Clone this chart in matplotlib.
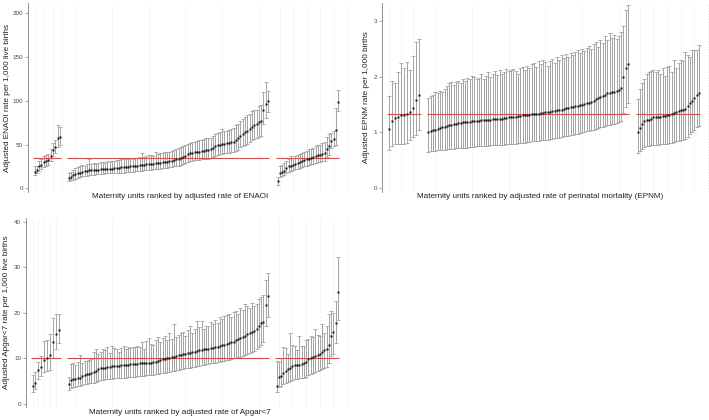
import numpy as np
import matplotlib
matplotlib.use("Agg")
import matplotlib.pyplot as plt

plt.rcParams['font.family'] = ['Liberation Sans', 'DejaVu Sans']

# ---------------- DATA ----------------
# ENAOI (per 1,000 live births)
enaoi_g1 = [19, 21, 25, 27, 30, 31, 32, 37, 44, 47, 58, 59]
enaoi_g1_up = [25, 26, 31, 33, 37, 38, 39, 45, 52, 55, 72, 70]
enaoi_g1_lo = [15, 17, 20, 22, 24, 26, 27, 31, 37, 40, 47, 49]

enaoi_g2 = [11.5, 13.5, 15.0, 16.0, 17.0, 18.0, 19.0, 19.5, 20.0, 20.5,
            21.0, 21.0, 21.2, 21.5, 21.7, 22.0, 22.0, 22.2, 22.4, 22.6,
            23.0, 23.2, 23.5, 23.8, 24.0, 24.3, 24.6, 25.0, 25.3, 25.6,
            26.0, 26.3, 26.6, 27.0, 27.3, 27.6, 28.0, 28.2, 28.5, 28.8,
            29.2, 29.6, 30.0, 30.5, 31.0, 31.5, 32.0, 33.0, 34.0, 35.0,
            36.0, 37.5, 39.0, 40.0, 40.5, 41.0, 41.5, 42.0, 42.5, 43.0,
            43.5, 44.0, 45.0, 46.5, 48.0, 49.0, 50.0, 50.5, 51.0, 51.5,
            52.0, 52.5, 53.0, 55.0, 57.0, 60.0, 62.0, 64.0, 66.0, 68.0,
            70.0, 72.0, 73.0, 76.0, 77.0, 90.0, 96.0, 100.0]
enaoi_g2_up = [17, 19, 21, 23, 24, 25, 27, 26, 28, 33,
               28, 29, 28, 29, 30, 30, 29, 31, 30, 31,
               31, 32, 32, 33, 33, 34, 33, 35, 34, 35,
               35, 36, 40, 36, 37, 38, 38, 37, 41, 39,
               40, 40, 41, 42, 42, 43, 44, 45, 46, 47,
               48, 49, 51, 52, 53, 53, 54, 55, 55, 56,
               57, 57, 58, 60, 62, 63, 64, 68, 65, 66,
               67, 68, 69, 72, 74, 77, 79, 81, 84, 85,
               88, 90, 90, 94, 95, 110, 121, 111]
enaoi_g2_lo = [8, 9, 10, 11, 12, 13, 14, 14, 14, 15,
               15, 15, 16, 16, 16, 16, 17, 17, 17, 17,
               17, 18, 18, 18, 18, 19, 19, 19, 19, 20,
               20, 20, 20, 21, 21, 21, 21, 22, 22, 22,
               22, 23, 23, 23, 24, 24, 25, 25, 26, 27,
               28, 29, 30, 31, 31, 32, 32, 32, 33, 33,
               34, 34, 35, 36, 37, 38, 39, 39, 40, 40,
               40, 41, 41, 43, 44, 47, 48, 50, 51, 53,
               55, 56, 57, 59, 60, 73, 80, 87]

enaoi_g3 = [8, 18, 19, 20, 23, 25, 26, 27, 28, 29,
            30, 31, 32, 33, 34, 35, 36, 37, 38, 38,
            39, 40, 45, 48, 54, 56, 67, 99]
enaoi_g3_up = [13, 25, 27, 29, 31, 33, 37, 35, 37, 38,
               39, 40, 41, 43, 45, 45, 46, 48, 50, 49,
               52, 53, 59, 62, 63, 65, 92, 112]
enaoi_g3_lo = [4, 13, 14, 15, 17, 19, 20, 21, 22, 22,
               23, 24, 25, 26, 27, 28, 28, 29, 30, 30,
               31, 31, 36, 38, 46, 48, 49, 88]
enaoi_mean = 34.2

# EPNM (per 1,000 births)
epnm_g1 = [1.06, 1.20, 1.26, 1.28, 1.31, 1.32, 1.34, 1.37, 1.43, 1.58, 1.67]
epnm_g1_up = [1.65, 1.92, 1.88, 2.09, 2.24, 2.15, 2.27, 2.12, 2.37, 2.62, 2.68]
epnm_g1_lo = [0.69, 0.76, 0.79, 0.79, 0.79, 0.80, 0.82, 0.86, 0.92, 0.95, 1.04]

epnm_g2 = [1.01, 1.02, 1.04, 1.05, 1.07, 1.08, 1.09, 1.10, 1.12, 1.13,
           1.14, 1.15, 1.16, 1.17, 1.17, 1.18, 1.18, 1.19, 1.19, 1.20,
           1.20, 1.21, 1.21, 1.22, 1.22, 1.22, 1.23, 1.23, 1.24, 1.24,
           1.24, 1.25, 1.25, 1.26, 1.26, 1.27, 1.27, 1.28, 1.28, 1.29,
           1.30, 1.31, 1.31, 1.32, 1.32, 1.33, 1.33, 1.34, 1.34, 1.35,
           1.35, 1.36, 1.36, 1.37, 1.38, 1.39, 1.40, 1.41, 1.41, 1.42,
           1.43, 1.44, 1.45, 1.46, 1.47, 1.48, 1.49, 1.50, 1.51, 1.52,
           1.53, 1.55, 1.57, 1.60, 1.62, 1.64, 1.66, 1.68, 1.70, 1.71,
           1.72, 1.73, 1.74, 1.76, 1.79, 2.00, 2.15, 2.22]
epnm_g2_up = [1.62, 1.65, 1.68, 1.72, 1.70, 1.75, 1.73, 1.78, 1.83, 1.88,
              1.90, 1.85, 1.90, 1.92, 1.88, 1.96, 1.93, 1.98, 1.95, 2.02,
              1.99, 1.95, 1.98, 2.05, 1.96, 2.02, 2.08, 2.00, 2.05, 2.10,
              2.03, 2.12, 2.05, 2.08, 2.14, 2.10, 2.12, 2.13, 2.10, 2.05,
              2.15, 2.18, 2.12, 2.20, 2.15, 2.22, 2.25, 2.18, 2.28, 2.22,
              2.30, 2.26, 2.20, 2.28, 2.32, 2.25, 2.35, 2.30, 2.38, 2.34,
              2.40, 2.36, 2.42, 2.38, 2.45, 2.48, 2.42, 2.50, 2.46, 2.52,
              2.55, 2.50, 2.58, 2.62, 2.54, 2.66, 2.60, 2.72, 2.65, 2.78,
              2.70, 2.75, 2.68, 2.72, 2.80, 2.90, 3.20, 3.28]
epnm_g2_lo = [0.65, 0.66, 0.67, 0.67, 0.68, 0.68, 0.69, 0.69, 0.70, 0.70,
              0.71, 0.71, 0.72, 0.72, 0.72, 0.73, 0.73, 0.73, 0.74, 0.74,
              0.74, 0.75, 0.75, 0.75, 0.76, 0.76, 0.76, 0.77, 0.77, 0.77,
              0.77, 0.78, 0.78, 0.78, 0.79, 0.79, 0.80, 0.80, 0.80, 0.81,
              0.81, 0.82, 0.82, 0.83, 0.83, 0.84, 0.84, 0.85, 0.85, 0.86,
              0.86, 0.87, 0.87, 0.88, 0.89, 0.90, 0.90, 0.91, 0.92, 0.93,
              0.94, 0.94, 0.95, 0.96, 0.97, 0.98, 0.99, 1.00, 1.01, 1.02,
              1.03, 1.04, 1.05, 1.07, 1.08, 1.09, 1.10, 1.12, 1.13, 1.14,
              1.15, 1.16, 1.17, 1.18, 1.20, 1.35, 1.45, 1.52]

epnm_g3 = [1.00, 1.08, 1.16, 1.21, 1.22, 1.23, 1.25, 1.27, 1.27, 1.28,
           1.28, 1.29, 1.30, 1.31, 1.32, 1.34, 1.35, 1.37, 1.39, 1.40,
           1.41, 1.42, 1.47, 1.52, 1.57, 1.62, 1.67, 1.71]
epnm_g3_up = [1.60, 1.78, 1.88, 1.95, 2.05, 2.08, 2.10, 2.12, 2.08, 2.12,
              2.05, 2.15, 2.02, 2.18, 2.20, 2.08, 2.30, 2.15, 2.25, 2.30,
              2.28, 2.45, 2.38, 2.35, 2.48, 2.47, 2.48, 2.56]
epnm_g3_lo = [0.63, 0.66, 0.70, 0.74, 0.75, 0.76, 0.77, 0.77, 0.78, 0.78,
              0.79, 0.79, 0.80, 0.80, 0.81, 0.82, 0.83, 0.84, 0.85, 0.86,
              0.87, 0.88, 0.92, 0.97, 1.00, 1.05, 1.10, 1.12]
epnm_mean = 1.33

# Apgar<7 (per 1,000 live births)
apgar_g1 = [4.0, 4.7, 7.4, 8.2, 9.6, 10.0, 10.7, 13.6, 15.3, 16.2]
apgar_g1_up = [6.3, 7.0, 9.3, 10.5, 13.8, 14.0, 15.3, 18.8, 19.8, 19.8]
apgar_g1_lo = [2.7, 3.3, 5.5, 6.2, 7.0, 7.2, 7.5, 10.0, 12.0, 13.3]

apgar_g2 = [4.3, 5.2, 5.4, 5.5, 5.6, 5.8, 6.2, 6.4, 6.5, 6.6,
            6.7, 7.0, 7.3, 7.6, 7.8, 7.9, 8.0, 8.1, 8.2, 8.3,
            8.3, 8.4, 8.4, 8.5, 8.5, 8.6, 8.6, 8.7, 8.7, 8.8,
            8.8, 8.9, 8.9, 9.0, 9.0, 9.1, 9.1, 9.2, 9.3, 9.5,
            9.7, 9.8, 9.9, 10.0, 10.1, 10.2, 10.3, 10.5, 10.7, 10.8,
            10.9, 11.0, 11.1, 11.2, 11.3, 11.4, 11.6, 11.8, 11.9, 12.0,
            12.0, 12.1, 12.2, 12.3, 12.5, 12.6, 12.8, 12.9, 13.0, 13.2,
            13.3, 13.5, 13.7, 14.0, 14.2, 14.5, 14.8, 15.0, 15.3, 15.5,
            15.7, 16.0, 16.5, 17.0, 17.8, 18.0, 21.7, 23.7]
apgar_g2_up = [6.0, 8.8, 9.0, 8.5, 9.2, 10.8, 9.0, 9.4, 9.5, 9.6,
               9.8, 11.5, 12.0, 11.0, 11.5, 12.0, 11.8, 12.5, 11.2, 12.8,
               12.2, 12.0, 11.5, 12.3, 12.8, 12.0, 12.5, 12.2, 12.6, 12.4,
               12.8, 12.5, 13.5, 12.0, 13.8, 14.5, 13.2, 13.0, 14.0, 14.8,
               13.5, 14.5, 15.0, 14.0, 15.5, 14.2, 17.5, 14.8, 15.2, 15.5,
               15.8, 15.0, 16.2, 17.2, 15.5, 16.5, 18.2, 16.8, 18.3, 16.5,
               17.2, 17.0, 18.0, 17.5, 18.5, 17.8, 19.0, 18.6, 19.2, 19.5,
               19.8, 19.0, 20.2, 20.5, 19.8, 21.0, 20.6, 22.0, 21.5, 21.0,
               22.2, 21.5, 22.0, 23.0, 23.5, 23.8, 27.2, 28.7]
apgar_g2_lo = [3.0, 3.5, 3.7, 3.8, 3.9, 4.0, 4.2, 4.3, 4.4, 4.5,
               4.6, 4.7, 4.9, 5.0, 5.2, 5.3, 5.4, 5.4, 5.5, 5.5,
               5.6, 5.6, 5.7, 5.7, 5.8, 5.8, 5.9, 5.9, 6.0, 6.0,
               6.1, 6.1, 6.2, 6.2, 6.3, 6.3, 6.4, 6.4, 6.5, 6.6,
               6.7, 6.8, 6.9, 7.0, 7.1, 7.2, 7.3, 7.4, 7.5, 7.6,
               7.7, 7.8, 7.9, 8.0, 8.1, 8.2, 8.3, 8.4, 8.5, 8.6,
               8.7, 8.8, 8.9, 9.0, 9.1, 9.2, 9.3, 9.4, 9.5, 9.6,
               9.7, 9.8, 10.0, 10.1, 10.3, 10.4, 10.6, 10.8, 11.0, 11.2,
               11.4, 11.6, 12.0, 12.4, 13.0, 13.5, 17.0, 19.0]

apgar_g3 = [4.0, 6.0, 6.1, 6.9, 7.2, 7.6, 8.0, 8.4, 8.5, 8.5,
            8.6, 8.8, 9.0, 9.3, 9.8, 10.0, 10.2, 10.5, 10.7, 11.0,
            11.4, 11.8, 12.0, 13.0, 15.0, 15.8, 17.8, 24.5]
apgar_g3_up = [9.5, 9.3, 10.0, 12.5, 12.2, 11.0, 15.5, 13.0, 12.7, 11.8,
               15.0, 12.7, 12.7, 14.0, 14.3, 15.0, 14.8, 16.5, 15.2, 15.0,
               17.5, 15.5, 17.2, 19.8, 20.3, 20.0, 22.6, 32.3]
apgar_g3_lo = [2.7, 3.8, 4.0, 4.3, 4.5, 4.8, 5.0, 5.2, 5.4, 5.5,
               5.6, 5.7, 5.8, 6.0, 6.3, 6.5, 6.7, 7.0, 7.2, 7.4,
               7.7, 8.0, 8.2, 9.0, 10.5, 11.0, 13.3, 18.5]
apgar_mean = 10.0

enaoi_ticks = [0, 50, 100, 150, 200]
epnm_ticks = [0, 1, 2, 3]
apgar_ticks = [0, 10, 20, 30, 40]

enaoi_ylabel = "Adjusted ENAOI rate per 1,000 live births"
epnm_ylabel = "Adjusted EPNM rate per 1,000 births"
apgar_ylabel = "Adjusted Apgar<7 rate per 1,000 live births"
enaoi_xlabel = "Maternity units ranked by adjusted rate of ENAOI"
epnm_xlabel = "Maternity units ranked by adjusted rate of perinatal mortality (EPNM)"
apgar_xlabel = "Maternity units ranked by adjusted rate of Apgar<7"

# ---------------- LAYOUT ----------------
W, H = 709, 420
fig = plt.figure(figsize=(W / 100, H / 100), dpi=100)

GRID_C = '#e6e6e6'
BAR_C = '#a3a3a3'
RED = '#d0504c'
AX_C = '#808080'
TXT_C = '#4a4a4a'
LBL_FS = 5.9


def px_axes(x0, x1, ytop, ybot):
    return fig.add_axes([x0 / W, 1 - ybot / H, (x1 - x0) / W, (ybot - ytop) / H])


def draw_panel(groups, mean, ylim, yticks, ylabel, xlabel, axis_x, ytop, ybot,
               spans, grid_steps, xlabel_xy, ylabel_x):
    for (vals, up, lo), (fx0, fx1, p0, p1), gstep in zip(groups, spans, grid_steps):
        vals = np.asarray(vals, float)
        up = np.asarray(up, float)
        lo = np.asarray(lo, float)
        n = len(vals)
        assert len(up) == n and len(lo) == n
        ax = px_axes(fx0, fx1, ytop, ybot)
        sc = (n - 1) / (p1 - p0)  # units per px
        ax.set_xlim(-(p0 - fx0) * sc, (n - 1) + (fx1 - p1) * sc)
        ax.set_ylim(*ylim)
        x = np.arange(n)
        for g in np.arange(gstep[0], n + 5, gstep[1]):
            ax.axvline(g, color=GRID_C, lw=0.5, ls=(0, (2, 2)), zorder=0)
        ax.errorbar(x, vals, yerr=[vals - lo, up - vals], fmt='none',
                    ecolor=BAR_C, elinewidth=0.7, capsize=1.2, capthick=0.6, zorder=2)
        ax.plot([-0.6, n - 0.4], [mean, mean], color=RED, lw=0.8,
                solid_capstyle='butt', zorder=3)
        ax.plot(x, vals, 's', ms=1.8, color='#151515', mec='none', zorder=4)
        for s in ax.spines.values():
            s.set_visible(False)
        ax.set_xticks([])
        ax.set_yticks([])
        ax.patch.set_alpha(0)
    # y axis
    yax = px_axes(axis_x, axis_x + 1, ytop, ybot)
    yax.set_ylim(*ylim)
    yax.set_xticks([])
    for k in ['top', 'right', 'bottom']:
        yax.spines[k].set_visible(False)
    yax.spines['left'].set_color(AX_C)
    yax.spines['left'].set_linewidth(0.6)
    yax.set_yticks(yticks)
    yax.set_yticklabels([str(t) for t in yticks])
    yax.tick_params(axis='y', length=2, width=0.5, color=AX_C, labelsize=4.5,
                    labelcolor=TXT_C, pad=1.5)
    yax.patch.set_alpha(0)
    fig.text(ylabel_x / W, 1 - (ytop + ybot) / 2 / H, ylabel, rotation=90,
             fontsize=LBL_FS, color='#222222', ha='center', va='center')
    fig.text(xlabel_xy[0] / W, 1 - xlabel_xy[1] / H, xlabel, fontsize=LBL_FS,
             color='#222222', ha='center', va='center')


draw_panel([(enaoi_g1, enaoi_g1_up, enaoi_g1_lo),
            (enaoi_g2, enaoi_g2_up, enaoi_g2_lo),
            (enaoi_g3, enaoi_g3_up, enaoi_g3_lo)],
           enaoi_mean, (-4.2, 211.8), enaoi_ticks, enaoi_ylabel, enaoi_xlabel,
           28, 3, 192,
           [(29, 63, 34.5, 60), (66, 271, 68.5, 268), (274, 349, 277.5, 338)],
           [(0, 4), (3, 16), (1, 6)], (180, 197), 8)

draw_panel([(epnm_g1, epnm_g1_up, epnm_g1_lo),
            (epnm_g2, epnm_g2_up, epnm_g2_lo),
            (epnm_g3, epnm_g3_up, epnm_g3_lo)],
           epnm_mean, (-0.066, 3.32), epnm_ticks, epnm_ylabel, epnm_xlabel,
           382, 3, 192,
           [(383, 422, 388.5, 419), (425, 631, 428.5, 628), (634, 709, 637.5, 699)],
           [(0, 4), (3, 16), (1, 6)], (540, 197), 367)

draw_panel([(apgar_g1, apgar_g1_up, apgar_g1_lo),
            (apgar_g2, apgar_g2_up, apgar_g2_lo),
            (apgar_g3, apgar_g3_up, apgar_g3_lo)],
           apgar_mean, (-0.66, 40.8), apgar_ticks, apgar_ylabel, apgar_xlabel,
           26, 218, 407,
           [(27, 62, 32.5, 59), (65, 271, 68.5, 268), (273, 349, 276.5, 338)],
           [(0, 2), (3, 16), (1, 6)], (180, 413), 7)

fig.savefig('out.png', dpi=100)
